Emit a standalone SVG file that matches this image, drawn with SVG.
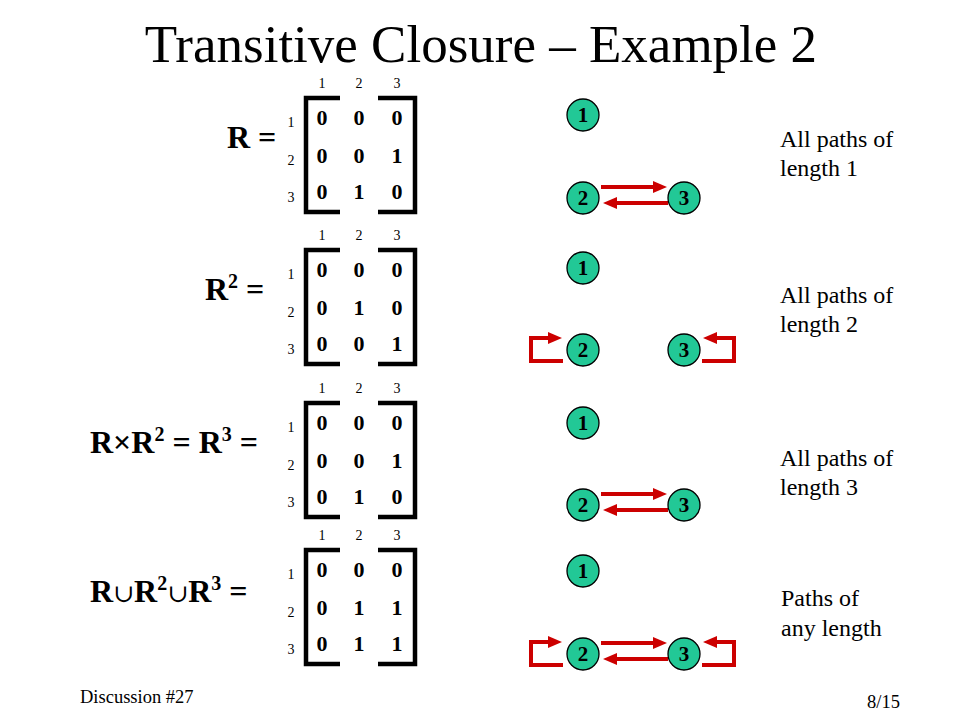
<svg xmlns="http://www.w3.org/2000/svg" width="960" height="720" viewBox="0 0 960 720">
<style>
text{font-family:"Liberation Serif","Times New Roman",serif;fill:#000}
.title{font-size:53px;text-anchor:middle}
.lbl{font-size:32px;font-weight:bold}
.sup{font-size:20px}
.cup{font-size:25px;font-weight:normal;font-family:"DejaVu Serif","Liberation Serif",serif}
.ent{font-size:22px;font-weight:bold;text-anchor:middle}
.idx{font-size:14px;text-anchor:middle}
.note{font-size:24px;font-family:"Liberation Serif","Times New Roman",serif}
.foot{font-size:18.5px}
.br{fill:none;stroke:#000;stroke-width:4.5}
.nd circle{fill:#22C896;stroke:#000;stroke-width:1.3}
.nd text{font-size:21px;font-weight:bold;text-anchor:middle}
.ar{fill:none;stroke:#CC0000;stroke-width:4}
</style>
<defs>
<marker id="ah" viewBox="0 0 14 12" refX="4" refY="6" markerWidth="14" markerHeight="12" markerUnits="userSpaceOnUse" orient="auto">
<path d="M0,0 L14,6 L0,12 z" fill="#CC0000"/>
</marker>
</defs>

<text class="title" x="481" y="62">Transitive Closure – Example 2</text>

<!-- Matrix R -->
<g id="matrix-R">
<text class="lbl" x="227" y="148">R =</text>
<g transform="translate(0,98)">
<path class="br" d="M340,0 H306 V114 H340"/><path class="br" d="M378,0 H415 V114 H378"/>
<text class="idx" x="322" y="-10">1</text><text class="idx" x="359" y="-10">2</text><text class="idx" x="397" y="-10">3</text>
<text class="idx" x="291" y="29">1</text><text class="idx" x="291" y="67">2</text><text class="idx" x="291" y="104">3</text>
<text class="ent" x="322" y="27">0</text><text class="ent" x="359" y="27">0</text><text class="ent" x="397" y="27">0</text>
<text class="ent" x="322" y="65">0</text><text class="ent" x="359" y="65">0</text><text class="ent" x="397" y="65">1</text>
<text class="ent" x="322" y="101">0</text><text class="ent" x="359" y="101">1</text><text class="ent" x="397" y="101">0</text>
</g>
</g>

<!-- Matrix R2 -->
<g id="matrix-R2">
<text class="lbl" x="205" y="300">R<tspan class="sup" dy="-12">2</tspan><tspan dy="12"> =</tspan></text>
<g transform="translate(0,250)">
<path class="br" d="M340,0 H306 V114 H340"/><path class="br" d="M378,0 H415 V114 H378"/>
<text class="idx" x="322" y="-10">1</text><text class="idx" x="359" y="-10">2</text><text class="idx" x="397" y="-10">3</text>
<text class="idx" x="291" y="29">1</text><text class="idx" x="291" y="67">2</text><text class="idx" x="291" y="104">3</text>
<text class="ent" x="322" y="27">0</text><text class="ent" x="359" y="27">0</text><text class="ent" x="397" y="27">0</text>
<text class="ent" x="322" y="65">0</text><text class="ent" x="359" y="65">1</text><text class="ent" x="397" y="65">0</text>
<text class="ent" x="322" y="101">0</text><text class="ent" x="359" y="101">0</text><text class="ent" x="397" y="101">1</text>
</g>
</g>

<!-- Matrix R3 -->
<g id="matrix-R3">
<text class="lbl" x="90" y="453">R×R<tspan class="sup" dy="-12">2</tspan><tspan dy="12"> = R</tspan><tspan class="sup" dy="-12">3</tspan><tspan dy="12"> =</tspan></text>
<g transform="translate(0,403)">
<path class="br" d="M340,0 H306 V114 H340"/><path class="br" d="M378,0 H415 V114 H378"/>
<text class="idx" x="322" y="-10">1</text><text class="idx" x="359" y="-10">2</text><text class="idx" x="397" y="-10">3</text>
<text class="idx" x="291" y="29">1</text><text class="idx" x="291" y="67">2</text><text class="idx" x="291" y="104">3</text>
<text class="ent" x="322" y="27">0</text><text class="ent" x="359" y="27">0</text><text class="ent" x="397" y="27">0</text>
<text class="ent" x="322" y="65">0</text><text class="ent" x="359" y="65">0</text><text class="ent" x="397" y="65">1</text>
<text class="ent" x="322" y="101">0</text><text class="ent" x="359" y="101">1</text><text class="ent" x="397" y="101">0</text>
</g>
</g>

<!-- Matrix union -->
<g id="matrix-union">
<text class="lbl" x="90" y="602">R<tspan class="cup">∪</tspan>R<tspan class="sup" dy="-12">2</tspan><tspan class="cup" dy="12">∪</tspan>R<tspan class="sup" dy="-12">3</tspan><tspan dy="12"> =</tspan></text>
<g transform="translate(0,550)">
<path class="br" d="M340,0 H306 V114 H340"/><path class="br" d="M378,0 H415 V114 H378"/>
<text class="idx" x="322" y="-10">1</text><text class="idx" x="359" y="-10">2</text><text class="idx" x="397" y="-10">3</text>
<text class="idx" x="291" y="29">1</text><text class="idx" x="291" y="67">2</text><text class="idx" x="291" y="104">3</text>
<text class="ent" x="322" y="27">0</text><text class="ent" x="359" y="27">0</text><text class="ent" x="397" y="27">0</text>
<text class="ent" x="322" y="65">0</text><text class="ent" x="359" y="65">1</text><text class="ent" x="397" y="65">1</text>
<text class="ent" x="322" y="101">0</text><text class="ent" x="359" y="101">1</text><text class="ent" x="397" y="101">1</text>
</g>
</g>

<!-- Connectors -->
<g id="connectors">
<path class="ar" d="M601,187 H657" marker-end="url(#ah)"/>
<path class="ar" d="M668,203 H613" marker-end="url(#ah)"/>
<path class="ar" d="M563,361 H531 V338 H552" marker-end="url(#ah)"/>
<path class="ar" d="M702,361 H734 V338 H713" marker-end="url(#ah)"/>
<path class="ar" d="M601,494 H657" marker-end="url(#ah)"/>
<path class="ar" d="M668,510 H613" marker-end="url(#ah)"/>
<path class="ar" d="M601,643 H657" marker-end="url(#ah)"/>
<path class="ar" d="M668,659 H613" marker-end="url(#ah)"/>
<path class="ar" d="M563,665 H531 V642 H552" marker-end="url(#ah)"/>
<path class="ar" d="M702,665 H734 V642 H713" marker-end="url(#ah)"/>
</g>

<!-- Nodes -->
<g id="g1-n1" class="nd"><circle cx="583" cy="115" r="16"/><text x="583" y="122">1</text></g>
<g id="g1-n2" class="nd"><circle cx="583" cy="198" r="16"/><text x="583" y="205">2</text></g>
<g id="g1-n3" class="nd"><circle cx="684" cy="198" r="16"/><text x="684" y="205">3</text></g>

<g id="g2-n1" class="nd"><circle cx="583" cy="268" r="16"/><text x="583" y="275">1</text></g>
<g id="g2-n2" class="nd"><circle cx="583" cy="350" r="16"/><text x="583" y="357">2</text></g>
<g id="g2-n3" class="nd"><circle cx="684" cy="350" r="16"/><text x="684" y="357">3</text></g>

<g id="g3-n1" class="nd"><circle cx="583" cy="423" r="16"/><text x="583" y="430">1</text></g>
<g id="g3-n2" class="nd"><circle cx="583" cy="505" r="16"/><text x="583" y="512">2</text></g>
<g id="g3-n3" class="nd"><circle cx="684" cy="505" r="16"/><text x="684" y="512">3</text></g>

<g id="g4-n1" class="nd"><circle cx="583" cy="571" r="16"/><text x="583" y="578">1</text></g>
<g id="g4-n2" class="nd"><circle cx="583" cy="654" r="16"/><text x="583" y="661">2</text></g>
<g id="g4-n3" class="nd"><circle cx="684" cy="654" r="16"/><text x="684" y="661">3</text></g>

<!-- Notes -->
<g id="note1"><text class="note" x="780" y="147">All paths of</text><text class="note" x="780" y="176">length 1</text></g>
<g id="note2"><text class="note" x="780" y="303">All paths of</text><text class="note" x="780" y="332">length 2</text></g>
<g id="note3"><text class="note" x="780" y="466">All paths of</text><text class="note" x="780" y="495">length 3</text></g>
<g id="note4"><text class="note" x="781" y="606">Paths of</text><text class="note" x="781" y="636">any length</text></g>

<text class="foot" x="80" y="703">Discussion #27</text>
<text class="foot" x="900" y="708" text-anchor="end">8/15</text>
</svg>
